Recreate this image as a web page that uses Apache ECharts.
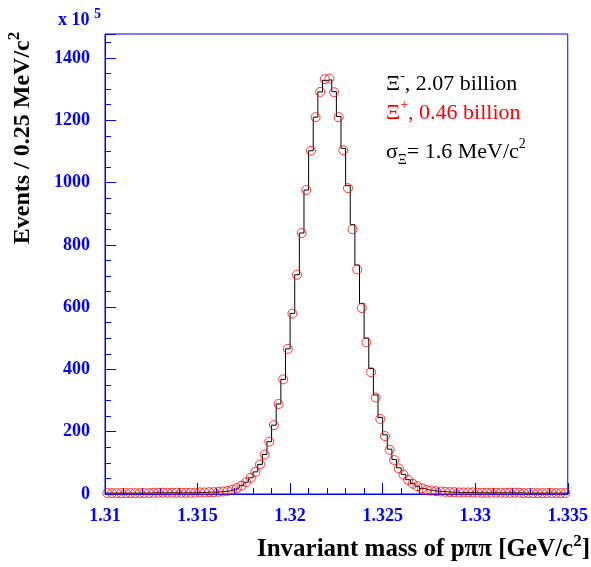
<!DOCTYPE html>
<html>
<head>
<meta charset="utf-8">
<script src="https://cdn.jsdelivr.net/npm/echarts@6/dist/echarts.min.js"></script>
<style>
html, body { margin: 0; padding: 0; background: #fff; }
#chart { width: 591px; height: 567px; }
</style>
</head>
<body>
<div id="chart"></div>
<script>
// binning of the mass histogram (GeV)
const massMin = 1.31
const massMax = 1.335
const binWidth = 0.00025

// Xi- events per bin (x 10^5), black histogram
const xiMinus = [
    3, 3, 3, 3, 3, 3, 3, 3, 3, 3,
    4, 4, 4, 4, 4, 4, 4, 4, 4, 4,
    5, 5, 6, 6, 7, 8, 10, 14, 19, 27,
    38, 52, 71, 95, 127, 168, 221, 289, 368, 466,
    580, 704, 838, 976, 1102, 1210, 1291, 1328, 1330, 1292,
    1212, 1110, 990, 865, 735, 612, 500, 403, 318, 246,
    190, 144, 111, 84, 63, 46, 34, 25, 18, 13,
    11, 9, 8, 7, 6, 6, 5, 5, 5, 5,
    4, 4, 4, 4, 4, 4, 4, 4, 4, 4,
    3, 3, 3, 3, 3, 3, 3, 3, 3, 3
]

// Xi+ events per bin (scaled), red circles
const xiPlus = [
    3, 3, 3, 3, 3, 3, 3, 3, 3, 3,
    4, 4, 4, 4, 4, 4, 4, 4, 4, 4,
    5, 5, 6, 6, 7, 8, 10, 14, 19, 27,
    38, 52, 71, 95, 127, 168, 221, 289, 368, 466,
    579, 704, 838, 976, 1102, 1210, 1291, 1332, 1334, 1290,
    1210, 1104, 982, 850, 721, 597, 487, 391, 310, 241,
    186, 142, 109, 82, 62, 45, 33, 25, 18, 13,
    11, 9, 8, 7, 6, 6, 5, 5, 5, 5,
    4, 4, 4, 4, 4, 4, 4, 4, 4, 4,
    3, 3, 3, 3, 3, 3, 3, 3, 3, 3
]

const yMax = 1477
const yInterval = 200
const xInterval = 0.005

const blue = '#0000ff'
const serif = '"Liberation Serif", "Times New Roman", serif'

// step line through bin edges
const histData = xiMinus.map((v, i) => [massMin + i * binWidth, v])
histData.push([massMax, xiMinus[xiMinus.length - 1]])
const pointData = xiPlus.map((v, i) => [massMin + (i + 0.5) * binWidth, v])

const chart = echarts.init(document.getElementById('chart'))

chart.setOption({
    animation: false,
    grid: {
        left: 105,
        right: 22,
        top: 34,
        bottom: 73,
        show: true,
        borderColor: blue,
        borderWidth: 1
    },
    xAxis: {
        type: 'value',
        min: massMin,
        max: massMax,
        interval: xInterval,
        axisLine: { show: true, lineStyle: { color: blue, width: 1 } },
        axisTick: { show: true, inside: true, length: 11, lineStyle: { color: blue } },
        minorTick: { show: true, splitNumber: 5, length: 6, lineStyle: { color: blue } },
        splitLine: { show: false },
        axisLabel: {
            color: blue,
            fontFamily: serif,
            fontWeight: 'bold',
            fontSize: 18,
            margin: 13,
            showMaxLabel: true,
            showMinLabel: true,
            formatter: v => String(+v.toFixed(3))
        }
    },
    yAxis: {
        type: 'value',
        min: 0,
        max: yMax,
        interval: yInterval,
        axisLine: { show: true, lineStyle: { color: blue, width: 1 } },
        axisTick: { show: true, inside: true, length: 11, lineStyle: { color: blue } },
        minorTick: { show: true, splitNumber: 4, length: 6, lineStyle: { color: blue } },
        splitLine: { show: false },
        axisLabel: {
            color: blue,
            fontFamily: serif,
            fontWeight: 'bold',
            fontSize: 18,
            margin: 15,
            showMaxLabel: false,
            formatter: v => String(v)
        }
    },
    series: [{
            name: 'Xi-',
            type: 'line',
            step: 'end',
            data: histData,
            showSymbol: false,
            lineStyle: { color: '#000', width: 1 },
            z: 2
        },
        {
            name: 'Xi+',
            type: 'scatter',
            data: pointData,
            symbol: 'circle',
            symbolSize: 9,
            itemStyle: { color: 'rgba(0,0,0,0)', borderColor: '#ff0000', borderWidth: 1 },
            z: 3
        }
    ],
    graphic: [{
            type: 'text',
            left: 58,
            top: 7,
            style: {
                text: 'x 10 {s|5}',
                fill: blue,
                font: 'bold 18px ' + serif,
                lineHeight: 26,
                rich: { s: { fontSize: 14, fontWeight: 'bold', fontFamily: serif, fill: blue, verticalAlign: 'top' } }
            }
        },
        {
            type: 'text',
            x: 23,
            y: 138,
            rotation: Math.PI / 2,
            style: {
                text: 'Events / 0.25 MeV/c{s|2}',
                fill: '#000',
                font: 'bold 24px ' + serif,
                align: 'center',
                verticalAlign: 'middle',
                lineHeight: 34,
                rich: { s: { fontSize: 17, fontWeight: 'bold', fontFamily: serif, fill: '#000', verticalAlign: 'top' } }
            }
        },
        {
            type: 'text',
            x: 590,
            y: 550,
            style: {
                text: 'Invariant mass of pππ [GeV/c{s|2}]',
                fill: '#000',
                font: 'bold 25px ' + serif,
                align: 'right',
                verticalAlign: 'middle',
                lineHeight: 34,
                rich: { s: { fontSize: 17, fontWeight: 'bold', fontFamily: serif, fill: '#000', verticalAlign: 'top' } }
            }
        },
        {
            type: 'text',
            x: 386,
            y: 84,
            style: {
                text: 'Ξ{s|-}, 2.07 billion',
                fill: '#000',
                font: '22px ' + serif,
                verticalAlign: 'middle',
                lineHeight: 30,
                rich: { s: { fontSize: 14, fontFamily: serif, fill: '#000', verticalAlign: 'top' } }
            }
        },
        {
            type: 'text',
            x: 386,
            y: 113,
            style: {
                text: 'Ξ{s|+}, 0.46 billion',
                fill: '#ff0000',
                font: '22px ' + serif,
                verticalAlign: 'middle',
                lineHeight: 30,
                rich: { s: { fontSize: 14, fontFamily: serif, fill: '#ff0000', verticalAlign: 'top' } }
            }
        },
        {
            type: 'text',
            x: 386,
            y: 152,
            style: {
                text: 'σ{b|Ξ}= 1.6 MeV/c{s|2}',
                fill: '#000',
                font: '22px ' + serif,
                verticalAlign: 'middle',
                lineHeight: 30,
                rich: {
                    b: { fontSize: 14, fontFamily: serif, fill: '#000', verticalAlign: 'bottom' },
                    s: { fontSize: 14, fontFamily: serif, fill: '#000', verticalAlign: 'top' }
                }
            }
        }
    ]
})
</script>
</body>
</html>
